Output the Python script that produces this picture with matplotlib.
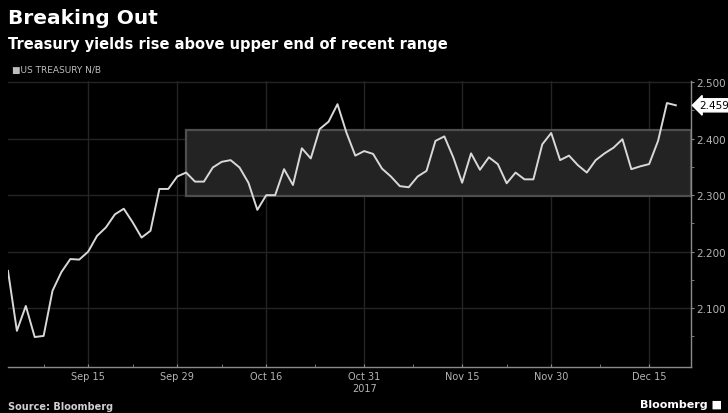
import numpy as np
import pandas as pd
import matplotlib
matplotlib.use('Agg')
import matplotlib.pyplot as plt
from matplotlib.patches import Rectangle

# %%
# data: US 10y treasury yield, trading days Sep 1 - Dec 20 2017

holidays = ['2017-09-04', '2017-10-09', '2017-11-23']
dates = pd.bdate_range('2017-09-01', '2017-12-20')
dates = dates[~dates.isin(pd.to_datetime(holidays))]

yields = [2.166, 2.060, 2.104, 2.049, 2.051, 2.131, 2.164, 2.187, 2.186, 2.200,
          2.228, 2.243, 2.266, 2.276, 2.252, 2.225, 2.237, 2.311, 2.311, 2.333,
          2.340, 2.324, 2.324, 2.349, 2.359, 2.362, 2.349, 2.322, 2.274, 2.300,
          2.300, 2.346, 2.318, 2.383, 2.365, 2.417, 2.430, 2.461, 2.411, 2.370,
          2.378, 2.373, 2.347, 2.333, 2.316, 2.314, 2.333, 2.343, 2.396, 2.404,
          2.367, 2.322, 2.374, 2.345, 2.367, 2.355, 2.321, 2.340, 2.328, 2.328,
          2.390, 2.410, 2.362, 2.370, 2.353, 2.340, 2.362, 2.374, 2.384, 2.399,
          2.346, 2.351, 2.355, 2.396, 2.463, 2.459]

tick_dates = ['2017-09-15', '2017-09-29', '2017-10-16', '2017-10-31',
              '2017-11-15', '2017-11-30', '2017-12-15']
tick_labels = ['Sep 15', 'Sep 29', 'Oct 16', 'Oct 31\n2017', 'Nov 15', 'Nov 30', 'Dec 15']

range_start = '2017-10-02'
range_low = 2.298
range_high = 2.415
last_label = '2.459'

# %%
# style
bg = 'black'
fg = '#d8d8d8'
grid_c = '#242424'
axis_c = '#8a8a8a'
fs_t = {"fontsize": 14.5, "fontweight": "bold", "color": "white"}
fs_s = {"fontsize": 10.5, "fontweight": "bold", "color": "white"}

x = np.arange(len(dates))
pos = {d: i for i, d in enumerate(dates)}
ticks = [pos[pd.Timestamp(d)] for d in tick_dates]
minor = [4] + [(a + b) / 2 for a, b in zip(ticks[:-1], ticks[1:])]
x_right = 76.7

# %%
# plot
fig = plt.figure(figsize=(7.28, 4.14), dpi=100, facecolor=bg)
ax = fig.add_axes([8/728, 1 - 368/414, 683/728, 286/414], facecolor=bg)

x0 = pos[pd.Timestamp(range_start)]
ax.add_patch(Rectangle((x0, range_low), x_right - x0, range_high - range_low,
                       facecolor='#232323', edgecolor='#4e4e4e', lw=1.6, zorder=1))

ax.plot(x, yields, color=fg, lw=1.4, zorder=3)

ax.set_xlim(0, x_right)
ax.set_ylim(1.996, 2.502)

ax.set_xticks(ticks)
ax.set_xticklabels(tick_labels)
ax.set_xticks(minor, minor=True)
ax.yaxis.tick_right()
ax.set_yticks([2.1, 2.2, 2.3, 2.4, 2.5])
ax.set_yticklabels(['2.100', '2.200', '2.300', '2.400', '2.500'])
ax.set_yticks(np.arange(2.05, 2.5, 0.1), minor=True)

ax.tick_params(axis='x', which='both', colors=axis_c, labelcolor='#b5b5b5',
               labelsize=7, length=2, direction='in', pad=3)
ax.tick_params(axis='y', which='both', colors=axis_c, labelcolor='#b5b5b5',
               labelsize=7.5, length=2, direction='out', pad=2)
ax.grid(which='major', color=grid_c, lw=1, zorder=0)
ax.set_axisbelow(True)

for s in ['top', 'left']:
    ax.spines[s].set_visible(False)
for s in ['right', 'bottom']:
    ax.spines[s].set_color(axis_c)
    ax.spines[s].set_linewidth(1)

ax.annotate(last_label, xy=(1.0, yields[-1]), xycoords=('axes fraction', 'data'),
            xytext=(6, 0), textcoords='offset points', va='center', ha='left',
            fontsize=7.5, color='black',
            bbox=dict(boxstyle='larrow,pad=0.15', fc='white', ec='white'))

# %%
# texts
fig.text(8/728, 1 - 18/414, 'Breaking Out', va='center', ha='left', **fs_t)
fig.text(8/728, 1 - 44/414, 'Treasury yields rise above upper end of recent range',
         va='center', ha='left', **fs_s)
fig.text(12/728, 1 - 70/414, '\u25a0US TREASURY N/B', va='center', ha='left',
         fontsize=6.5, color='#bdbdbd')
fig.text(8/728, 1 - 407/414, 'Source: Bloomberg', va='center', ha='left',
         fontsize=7, fontweight='bold', color='#cfcfcf')
fig.text(640/728, 1 - 405/414, 'Bloomberg \u25a0', va='center', ha='left',
         fontsize=8, fontweight='bold', color='white')

fig.savefig('out.png', dpi=100, facecolor=bg)
